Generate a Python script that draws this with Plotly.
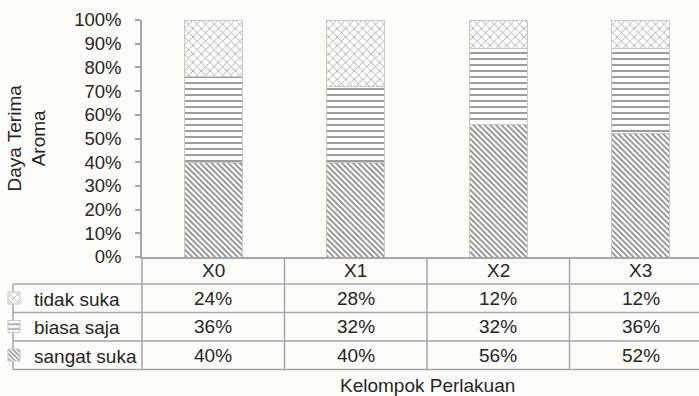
import plotly.graph_objects as go

categories = ["X0", "X1", "X2", "X3"]
series_names = ["sangat suka", "biasa saja", "tidak suka"]
sangat_suka = [40, 40, 56, 52]
biasa_saja = [36, 32, 32, 36]
tidak_suka = [24, 28, 12, 12]
y_ticks = [0, 10, 20, 30, 40, 50, 60, 70, 80, 90, 100]

FONT = "Liberation Sans, Arial, sans-serif"
TXT = "#262626"
GRID = "#a6a6a6"
BG = "#fcfcf8"
FS = 19
FS_TICK = 18.5

W, H = 699, 396
ML, MR, MT, MB = 142, 0, 20, 139
plot_w = W - ML - MR
plot_h = H - MT - MB
cat_w = 142.5
x0 = -0.5
x1 = x0 + plot_w / cat_w
xr = [x0, x1]

def px_to_paper_y(py):
    return (H - MB - py) / plot_h

def px_to_paper_x(px):
    return (px - ML) / plot_w

def cat_to_paper_x(v):
    return (v - xr[0]) / (xr[1] - xr[0])

fig = go.Figure()

values = {"sangat suka": sangat_suka, "biasa saja": biasa_saja, "tidak suka": tidak_suka}
patterns = {
    "sangat suka": dict(shape="\\", size=4, solidity=0.45, fgcolor="#111111", bgcolor="white"),
    "biasa saja": dict(shape="-", size=6, solidity=0.3, fgcolor="#222222", bgcolor="white"),
    "tidak suka": dict(shape="x", size=6, solidity=0.22, fgcolor="#222222", bgcolor="white"),
}
legend_ids = {"tidak suka": "legend", "biasa saja": "legend2", "sangat suka": "legend3"}

for name in series_names:
    fig.add_trace(go.Bar(
        x=categories, y=values[name], name=name, width=0.41,
        marker=dict(color="white", pattern=patterns[name],
                    line=dict(color="#c8c8c8", width=1)),
        legend=legend_ids[name], showlegend=True, hoverinfo="skip",
    ))

row_lines_px = [257, 284, 312.5, 341, 369.5]
row_lines = [px_to_paper_y(p) for p in row_lines_px]
left_border = px_to_paper_x(13)

shapes = []
for yl in row_lines[1:]:
    shapes.append(dict(type="line", xref="paper", yref="paper", x0=left_border, x1=1,
                       y0=yl, y1=yl, line=dict(color=GRID, width=1.5)))
for i in range(len(categories) + 1):
    xv = cat_to_paper_x(i - 0.5)
    if xv > 1:
        continue
    shapes.append(dict(type="line", xref="paper", yref="paper", x0=xv, x1=xv,
                       y0=row_lines[0], y1=row_lines[-1], line=dict(color=GRID, width=1.5)))
shapes.append(dict(type="line", xref="paper", yref="paper", x0=left_border, x1=left_border,
                   y0=row_lines[1], y1=row_lines[-1], line=dict(color=GRID, width=1.5)))

annotations = []
hdr_y = (row_lines[0] + row_lines[1]) / 2
for c in categories:
    annotations.append(dict(x=c, xref="x", y=hdr_y, yref="paper", text=c, showarrow=False,
                            font=dict(family=FONT, size=FS, color=TXT), yanchor="middle"))
table_rows = ["tidak suka", "biasa saja", "sangat suka"]
for r, name in enumerate(table_rows):
    yc = (row_lines[r + 1] + row_lines[r + 2]) / 2
    for c, v in zip(categories, values[name]):
        annotations.append(dict(x=c, xref="x", y=yc, yref="paper", text=f"{v}%", showarrow=False,
                                font=dict(family=FONT, size=FS, color=TXT), yanchor="middle"))
    fig.layout[legend_ids[name]] = dict(
        x=px_to_paper_x(-6), xanchor="left", y=yc, yanchor="middle",
        bgcolor="rgba(0,0,0,0)", borderwidth=0,
        font=dict(family=FONT, size=FS, color=TXT), itemwidth=30,
    )

annotations.append(dict(x=(xr[0] + 3.5) / 2, xref="x", y=px_to_paper_y(385), yref="paper",
                        text="Kelompok Perlakuan", showarrow=False, yanchor="middle",
                        xanchor="center", font=dict(family=FONT, size=FS, color=TXT)))
annotations.append(dict(x=px_to_paper_x(26), xref="paper", y=0.5, yref="paper",
                        xanchor="center", yanchor="middle",
                        text="Daya Terima<br>Aroma", textangle=-90, showarrow=False,
                        font=dict(family=FONT, size=FS, color=TXT)))

fig.update_layout(
    width=W, height=H, margin=dict(l=ML, r=MR, t=MT, b=MB, autoexpand=False),
    barmode="stack", bargap=0.59,
    paper_bgcolor=BG, plot_bgcolor=BG,
    shapes=shapes, annotations=annotations,
    font=dict(family=FONT, size=FS, color=TXT),
    xaxis=dict(range=xr, showticklabels=False, ticks="", showgrid=False, zeroline=False,
               showline=True, linecolor=GRID, linewidth=1.5),
    yaxis=dict(range=[0, 100], tickvals=y_ticks, ticktext=[f"{t}%" for t in y_ticks],
               showgrid=False, zeroline=False, showline=True, linecolor=GRID, linewidth=1.5,
               ticks="outside", ticklen=5, tickcolor=GRID, tickwidth=1.5,
               ticklabelstandoff=10, tickfont=dict(family=FONT, size=FS_TICK, color=TXT)),
)

fig.write_html("out.html")
